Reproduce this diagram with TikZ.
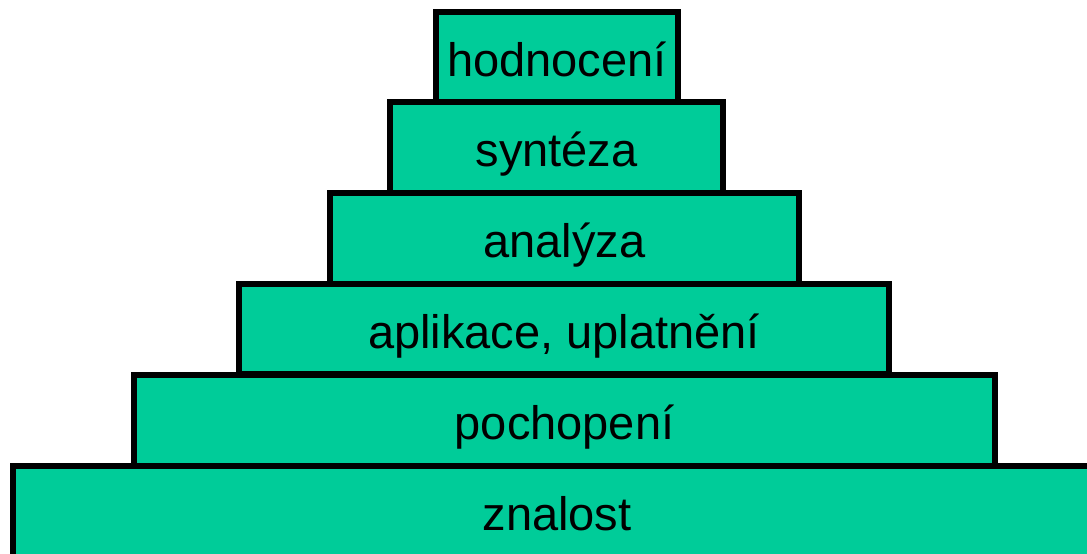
\documentclass[tikz,border=0pt]{standalone}
\usepackage{fontspec}
\setmainfont{Liberation Sans}
\definecolor{tier}{HTML}{00CC99}
\begin{document}
\begin{tikzpicture}[x=1pt,y=-1pt,
  tierbox/.style={rectangle,draw=black,fill=tier,line width=5.5pt,inner sep=0pt,
    text height=40pt,text depth=2pt,
    font=\fontsize{47}{52}\selectfont,text=black}]
\useasboundingbox (0,0) rectangle (1087,554);
\clip (0,0) rectangle (1087,554);
\node[tierbox,minimum width=1088pt,minimum height=91pt] (znalost) at (557,511.5) {znalost};
\node[tierbox,minimum width=861pt,minimum height=91pt] (pochopeni) at (564.5,420.5) {pochopení};
\node[tierbox,minimum width=650pt,minimum height=90pt] (aplikace) at (564,329) {aplikace, uplatnění};
\node[tierbox,minimum width=469pt,minimum height=91pt] (analyza) at (564.5,238.5) {analýza};
\node[tierbox,minimum width=333pt,minimum height=91pt] (synteza) at (556.5,147.5) {syntéza};
\node[tierbox,minimum width=242pt,minimum height=90pt] (hodnoceni) at (557,57) {hodnocení};
\end{tikzpicture}
\end{document}
